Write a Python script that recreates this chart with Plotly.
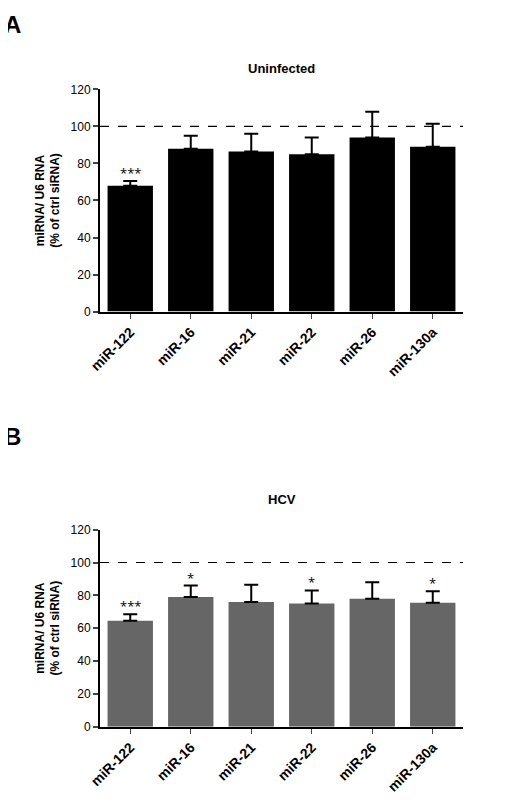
import plotly.graph_objects as go
from plotly.subplots import make_subplots

mirnas = ["miR-122", "miR-16", "miR-21", "miR-22", "miR-26", "miR-130a"]

uninf_mean = [68, 88, 86.5, 85, 94, 89]
uninf_err = [2.5, 7, 9.5, 9, 14, 12.5]
uninf_sig = ["***", "", "", "", "", ""]

hcv_mean = [64.5, 79, 76, 75, 78, 75.5]
hcv_err = [4, 7, 10.5, 8, 10, 7]
hcv_sig = ["***", "*", "", "*", "", "*"]

fig = make_subplots(rows=2, cols=1)

def add_panel(mean, err, sig, color, row):
    fig.add_trace(go.Bar(
        x=mirnas, y=mean, marker_color=color, marker_line_width=0,
        error_y=dict(type="data", symmetric=False, array=err, arrayminus=[0] * len(err),
                     color="black", thickness=2, width=7),
        showlegend=False), row=row, col=1)
    for m, e, s in zip(mirnas, [a + b for a, b in zip(mean, err)], sig):
        if s:
            fig.add_annotation(x=m, y=e, text=s, showarrow=False, yshift=8,
                               font=dict(size=13, color="black"), row=row, col=1)
    fig.add_shape(type="line", xref="x%s domain" % ("" if row == 1 else "2"),
                  yref="y" if row == 1 else "y2",
                  x0=0, x1=1, y0=100, y1=100,
                  line=dict(color="black", width=1.2, dash="dash"))

add_panel(uninf_mean, uninf_err, uninf_sig, "black", 1)
add_panel(hcv_mean, hcv_err, hcv_sig, "#666666", 2)

axis_font = dict(family="Arial, Liberation Sans", size=12, color="black")
for r in (1, 2):
    fig.update_xaxes(showline=True, linecolor="black", linewidth=2, ticks="outside",
                     tickangle=-45, tickfont=dict(family="Arial, Liberation Sans", size=14, color="black"),
                     tickprefix="<b>", ticksuffix="</b>", showgrid=False, row=r, col=1)
    fig.update_yaxes(range=[0, 120], dtick=20, showline=True, linecolor="black", linewidth=2,
                     ticks="outside", ticklen=5, tickwidth=2, tickfont=axis_font, showgrid=False,
                     zeroline=False,
                     title=dict(text="<b>miRNA/ U6 RNA<br>(% of ctrl siRNA)</b>",
                                font=dict(family="Arial, Liberation Sans", size=12, color="black"),
                                standoff=8),
                     row=r, col=1)

fig.update_layout(
    width=513, height=800, plot_bgcolor="white", paper_bgcolor="white",
    margin=dict(l=92, r=58, t=0, b=0), bargap=0.25,
    yaxis=dict(domain=[0.6227, 0.9053]),
    yaxis2=dict(domain=[0.0945, 0.3452]),
    annotations=list(fig.layout.annotations) + [
        dict(text="<b>Uninfected</b>", x=0.5, y=0.9435, xref="paper", yref="paper",
             showarrow=False, font=dict(family="Arial, Liberation Sans", size=13, color="black")),
        dict(text="<b>HCV</b>", x=0.5, y=0.3834, xref="paper", yref="paper",
             showarrow=False, font=dict(family="Arial, Liberation Sans", size=13, color="black")),
        dict(text="<b>A</b>", x=-0.27, y=1.008, xref="paper", yref="paper", xanchor="left", yanchor="top",
             showarrow=False, font=dict(family="Arial, Liberation Sans", size=24, color="black")),
        dict(text="<b>B</b>", x=-0.27, y=0.483, xref="paper", yref="paper", xanchor="left", yanchor="top",
             showarrow=False, font=dict(family="Arial, Liberation Sans", size=24, color="black")),
    ],
)

fig.write_html("out.html")
